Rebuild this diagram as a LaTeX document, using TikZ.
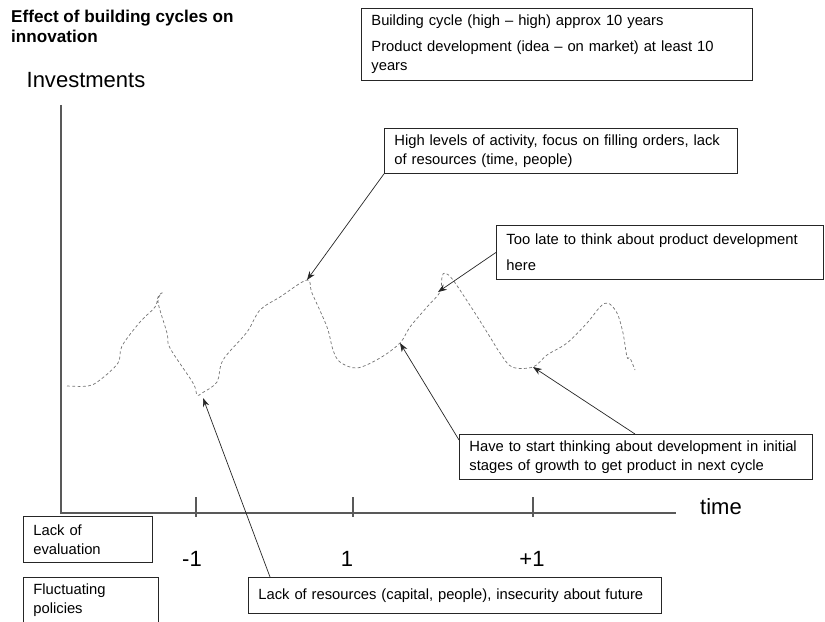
\documentclass[tikz,border=0pt]{standalone}
\usepackage{fontspec}
\setmainfont{Liberation Sans}
\usetikzlibrary{calc, positioning, arrows.meta}

\begin{document}
\begin{tikzpicture}[
        x=0.03cm, y=-0.03cm,
        box/.style={rectangle, draw=black!85, line width=0.7pt, anchor=north west,
                    align=left, inner xsep=0.3cm, inner ysep=0pt,
                    font=\fontsize{12.6}{16.2}\selectfont},
        big/.style={font=\fontsize{18.8}{22}\selectfont, inner sep=0pt},
        axis/.style={draw=black!65, line width=1pt},
        arrow/.style={-{Stealth[length=7.5pt, width=5.5pt]}, line width=0.6pt, draw=black!85},
        cycle/.style={draw=black!55, line width=0.6pt, dash pattern=on 2.5pt off 2pt},
    ]
    \useasboundingbox (0,0) rectangle (825,621);
    \clip (0,0) rectangle (825,621);

    % title
    \node[anchor=north west, inner sep=0pt, align=left,
          font=\bfseries\fontsize{14.6}{17}\selectfont] (title) at (11,10)
        {Effect of building cycles on\\innovation};

    % info box (top)
    \node[box, text width=11.13cm, minimum height=2.16cm] (info) at (361,8)
        {Building cycle (high -- high) approx 10 years\\[6pt]
         Product development (idea -- on market) at least 10\\years};

    % axes
    \coordinate (ytop) at (61,105);
    \coordinate (origin) at (61,513);
    \coordinate (xend) at (676,513);
    \draw[axis] (ytop) -- (origin) -- (xend);
    \node[big] (ylab) at (86,80) {Investments};
    \node[big] (xlab) at (721,507) {time};

    % ticks
    \foreach \tx/\tl/\lx in {196/{-1}/192, 353/1/347, 533/{+1}/532} {
        \draw[axis] (\tx,497) -- (\tx,517);
        \node[big] at (\lx,559) {\tl};
    }

    % building cycle
    \draw[cycle] plot[smooth, tension=0.55] coordinates {
        (67,386) (88,386) (100,380) (118,363) (122,346) (140,322) (155,307)
        (158,297) (162,293) (158,302) (167,333) (170,348) (193,383) (197,395)
        (202,393) (217,382) (223,360) (247,332) (260,310) (280,297) (307,280)
        (312,293) (327,327) (333,350) (340,362) (357,368) (380,358) (400,343)
        (410,327) (427,307) (440,292) (442,277) (445,273) (453,280) (473,310)
        (490,337) (500,353) (512,367) (533,367) (547,355) (567,343) (587,323)
        (600,307) (608,303) (617,313) (623,333) (627,357) (630,358) (635,370)};

    % points on the cycle
    \coordinate (peak) at (307,280);
    \coordinate (trough) at (203,398);
    \coordinate (rise) at (400,343);
    \coordinate (late) at (438,292);
    \coordinate (trough2) at (533,367);

    % comment boxes
    \node[box, text width=9.99cm, minimum height=1.35cm] (high) at (384,128)
        {High levels of activity, focus on filling orders, lack\\of resources (time, people)};
    \node[box, text width=9.21cm, minimum height=1.62cm] (toolate) at (496,225)
        {Too late to think about product development\\[6pt]here};
    \node[box, text width=9.99cm, minimum height=1.35cm] (start) at (459,434)
        {Have to start thinking about development in initial\\stages of growth to get product in next cycle};
    \node[box, text width=11.79cm, minimum height=1.08cm] (lackres) at (248,577)
        {Lack of resources (capital, people), insecurity about future};
    \node[box, text width=3.27cm, minimum height=1.38cm] (eval) at (23,516)
        {Lack of\\evaluation};
    \node[box, text width=3.45cm, minimum height=1.35cm] (fluct) at (23,577)
        {Fluctuating\\policies};

    % arrows
    \draw[arrow] (high.south west) -- (peak);
    \draw[arrow] (toolate.west) -- (late);
    \draw[arrow] ([xshift=0.66cm]lackres.north west) -- (trough);
    \draw[arrow] ([yshift=-0.18cm]start.north west) -- (rise);
    \draw[arrow] ([xshift=5.28cm]start.north west) -- (trough2);

\end{tikzpicture}
\end{document}
